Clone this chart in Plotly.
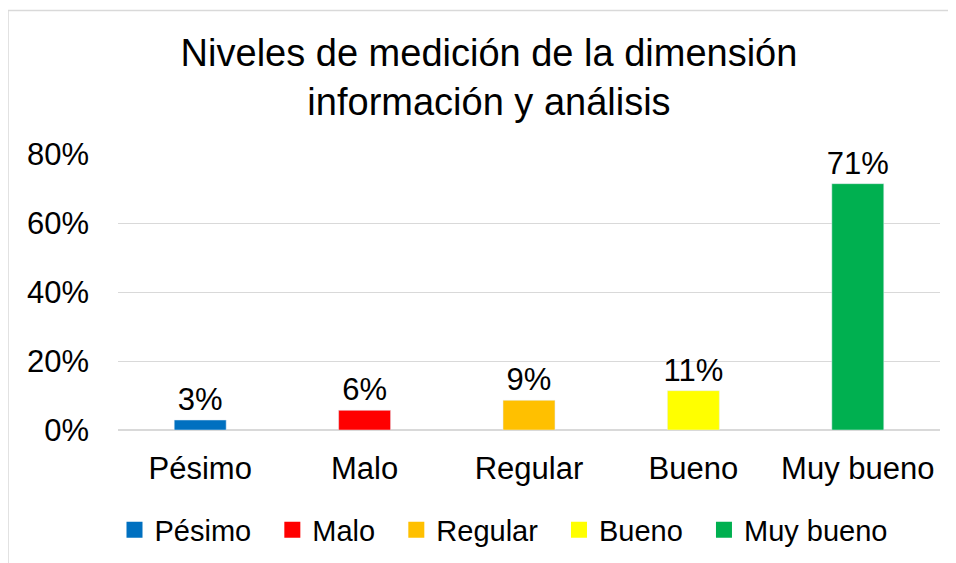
import plotly.graph_objects as go

categories = ["Pésimo", "Malo", "Regular", "Bueno", "Muy bueno"]
values = [0.029, 0.057, 0.086, 0.114, 0.714]
colors = ["#0070C0", "#FF0000", "#FFC000", "#FFFF00", "#00B050"]
title_text = "Niveles de medición de la dimensión<br>información y análisis"
y_ticks = [0, 0.2, 0.4, 0.6, 0.8]

# page places the figure 8px from top-left (body margin)
OFF = 8
W, H = 956 - OFF, 563 - OFF
px0, px1, py0, py1 = 118, 940, 154, 430  # plot area in screen px
L, R, T, B = px0 - OFF, W - (px1 - OFF), py0 - OFF, H - (py1 - OFF)
pw, ph = W - L - R, H - T - B

NB = "\u00a0"
fig = go.Figure()
for c, v, col in zip(categories, values, colors):
    fig.add_trace(go.Bar(
        x=[c], y=[v], name=c, marker_color=col, width=0.316, showlegend=False,
        text=[f"{round(v*100):.0f}%"], textposition="outside", constraintext="none",
        textfont=dict(size=31, color="#000000"), cliponaxis=False,
    ))
# legend entries (square swatches)
for c, col in zip(categories, colors):
    fig.add_trace(go.Scatter(
        x=[None], y=[None], mode="markers", name=c + NB * 2,
        marker=dict(symbol="square", size=16, color=col, line=dict(width=0)),
        showlegend=True,
    ))

font = "Liberation Sans, Arial, sans-serif"
fig.update_layout(
    width=W, height=H,
    margin=dict(l=L, r=R, t=T, b=B, autoexpand=False),
    paper_bgcolor="white", plot_bgcolor="white",
    font=dict(family=font, color="#000000", size=31),
    barmode="overlay",
    title=dict(text=title_text, x=(489 - OFF) / W, xanchor="center", y=1 - (66 - OFF) / H, yanchor="middle",
               font=dict(size=38, family=font, color="#000000")),
    showlegend=True,
    legend=dict(orientation="h", xref="container", x=(512 - OFF) / W, xanchor="center",
                yref="container", y=1 - (530 - OFF) / H, yanchor="middle",
                font=dict(size=29), itemwidth=30, traceorder="normal", itemsizing="trace"),
    xaxis=dict(categoryorder="array", categoryarray=categories, showgrid=False, automargin=False,
               showline=False, ticks="", tickfont=dict(size=31), ticklabelstandoff=17),
    yaxis=dict(range=[0, 0.8], tickvals=y_ticks, tickformat=".0%", showgrid=True, automargin=False,
               gridcolor="#D9D9D9", gridwidth=1, zeroline=True, zerolinecolor="#D9D9D9",
               showline=False, ticks="", tickfont=dict(size=31), ticklabelstandoff=28),
)
fig.add_shape(type="rect", xref="paper", yref="paper",
              x0=(8 - px0) / pw, x1=(W + 30 - L) / pw,
              y0=-(H + 30 - (T + ph)) / ph, y1=1 + (py0 - 10.5) / ph,
              line=dict(color="#D9D9D9", width=1.5), fillcolor="rgba(0,0,0,0)", layer="below")
fig.write_html("out.html")
